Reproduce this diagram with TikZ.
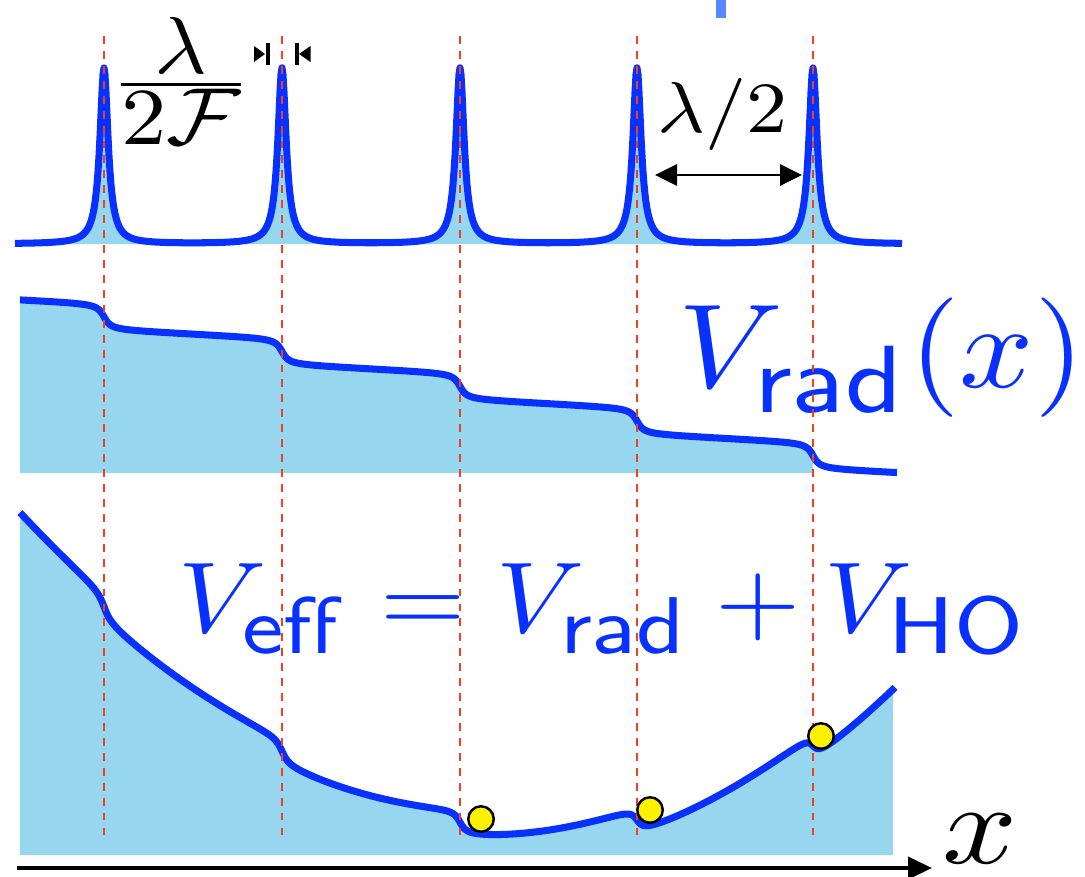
\documentclass[tikz,border=0pt]{standalone}
\usepackage{amsmath}
\DeclareMathSizes{10}{10}{8}{6}
\usetikzlibrary{arrows.meta}
\definecolor{curveblue}{RGB}{8,48,255}
\definecolor{fillblue}{RGB}{150,214,238}
\definecolor{dashred}{RGB}{240,64,32}
\definecolor{barblue}{RGB}{90,135,255}
\begin{document}
\begin{tikzpicture}[x=0.02cm,y=-0.02cm,
  declare function={
    lor(\vx,\vc)=0.01/(0.01+((\vx-\vc)/50)*((\vx-\vc)/50));
    stp(\vx,\vc)=0.5+atan((\vx-\vc)/5)/180;
    steps(\vx)=stp(\vx,104)+stp(\vx,282)+stp(\vx,460)+stp(\vx,637)+stp(\vx,813);
    peaks(\vx)=lor(\vx,104)+lor(\vx,282)+lor(\vx,460)+lor(\vx,637)+lor(\vx,813);
  },
  curve/.style={draw=curveblue,line width=4pt,line join=round},
  area/.style={fill=fillblue},
  guide/.style={draw=dashred,line width=1.1pt,dash pattern=on 4.5pt off 4pt},
  ball/.style={circle,draw=black,fill=yellow,line width=1.4pt,minimum size=0.51cm,inner sep=0pt},
  bluetext/.style={text=curveblue,inner sep=0pt,font=\normalsize},
  blacktext/.style={text=black,inner sep=0pt,font=\normalsize},
  tipA/.style={line width=1.6pt,{Triangle[length=0.44cm,width=0.42cm]}-{Triangle[length=0.44cm,width=0.42cm]}},
  axisarrow/.style={line width=2.2pt,-{Triangle[length=0.48cm,width=0.44cm]}}
]
\useasboundingbox (0,0) rectangle (1085,876);

% small blue bar at the top
\fill[barblue] (716,0) rectangle (726,18);

% ---- top panel: resonances
\fill[area] (15,244) -- plot[domain=15:902,samples=888] (\x,{244-176*peaks(\x)}) -- (902,244) -- cycle;
\draw[curve] plot[domain=15:902,samples=888] (\x,{244-176*peaks(\x)});

% ---- middle panel: V_rad
\fill[area] (20,473) -- plot[domain=20:813,samples=794] (\x,{299+0.045*(\x-20)+27*steps(\x)}) -- (813,473) -- cycle;
\draw[curve] plot[domain=20:897,samples=878] (\x,{299+0.045*(\x-20)+27*steps(\x)});

% ---- lower panel: V_eff
\fill[area] (20,855) -- plot[domain=20:893,samples=874] (\x,{755-11.6*((\x-478)/100)*((\x-478)/100)+27*steps(\x)}) -- (893,855) -- cycle;
\draw[curve] plot[domain=20:895,samples=876] (\x,{755-11.6*((\x-478)/100)*((\x-478)/100)+27*steps(\x)});

% ---- labels
\node[bluetext,scale=6.8,xscale=1.09,anchor=base west] (vrad) at (676,387) {$V_{\mathsf{rad}}(x)$};
\node[bluetext,scale=5.73,xscale=1.09,anchor=base west] (veff) at (176,632) {$V_{\mathsf{e}\mathsf{f}\mathsf{f}} = V_{\mathsf{rad}} + V_{\mathsf{HO}}$};
\node[blacktext,scale=4.6,xscale=1.12] (frac) at (181,81) {$\frac{\textstyle\lambda}{\textstyle 2\mathcal{F}}$};
\node[blacktext,scale=4.1,xscale=1.14] (half) at (723,114) {$\lambda/2$};
\node[blacktext,scale=6.5,xscale=1.15,anchor=base] (xlab) at (980,863) {$x$};

% ---- dashed guides
\foreach \k in {104,282,460,637,813} \draw[guide] (\k,36) -- (\k,841);

% ---- width markers
\fill (254,46) -- (265,54) -- (254,62) -- cycle;
\fill (266,43) rectangle (270,65);
\fill (310.5,46) -- (299,54) -- (310.5,62) -- cycle;
\fill (294.5,43) rectangle (298.5,65);

% ---- lambda/2 arrow
\coordinate (hl) at (655,175);
\coordinate (hr) at (802,175);
\draw[tipA] (hl) -- (hr);

% ---- balls
\node[ball] (ball1) at (481,819) {};
\node[ball] (ball2) at (650,810) {};
\node[ball] (ball3) at (821,736) {};

% ---- axis
\coordinate (ax0) at (17,868);
\coordinate (ax1) at (932,868);
\draw[axisarrow] (ax0) -- (ax1);
\end{tikzpicture}
\end{document}
